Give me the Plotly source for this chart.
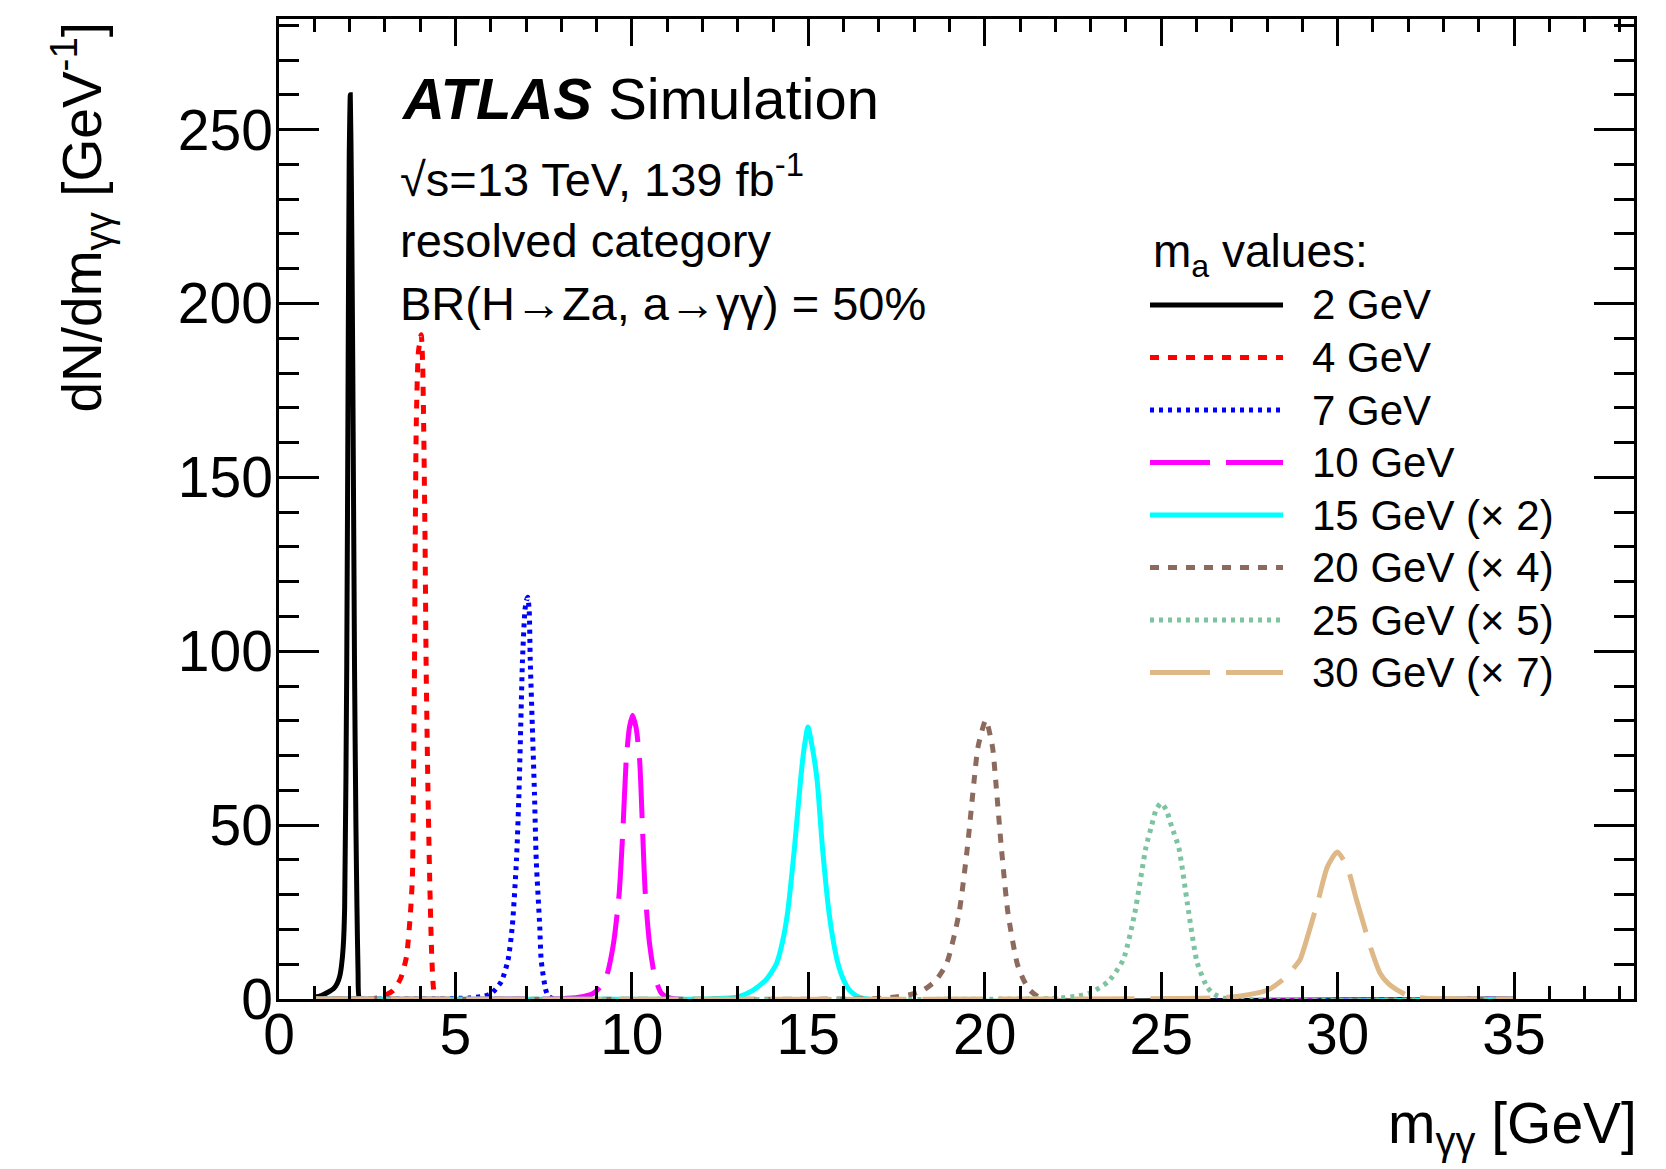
import plotly.graph_objects as go

# ---------------- data ----------------
labels = ["2 GeV", "4 GeV", "7 GeV", "10 GeV", "15 GeV (× 2)", "20 GeV (× 4)", "25 GeV (× 5)", "30 GeV (× 7)"]
colors = ["#000000", "#ff0000", "#0000ff", "#ff00ff", "#00ffff", "#8c6b5e", "#7cc4a0", "#deb887"]
dashes = ["solid", "9px,9px", "4px,5px", "60px,16px", "solid", "9px,9px", "4px,5px", "60px,16px"]

x_2 = [1.0, 1.2, 1.4, 1.55, 1.65, 1.72, 1.77, 1.82, 1.86, 1.92, 1.96, 1.99, 2.02, 2.05, 2.09, 2.14, 2.18, 2.21, 2.24, 2.27, 2.35, 35.0]
y_2 = [0.5, 1.0, 2.0, 3.0, 4.5, 6.5, 9.5, 15.0, 26.0, 96.0, 183.0, 242.0, 260.0, 236.0, 183.0, 96.0, 50.0, 26.0, 8.0, 0.5, 0.0, 0.0]

x_4 = [1.0, 2.8, 3.23, 3.45, 3.61, 3.72, 3.78, 3.81, 3.84, 3.86, 3.89, 3.95, 4.03, 4.07, 4.10, 4.14, 4.17, 4.22, 4.27, 4.33, 4.38, 4.45, 35.0]
y_4 = [0.0, 0.3, 2.4, 6.0, 12.0, 24.0, 34.7, 60.8, 95.7, 130.6, 165.0, 186.0, 191.0, 183.0, 165.0, 130.6, 95.7, 60.8, 34.7, 12.0, 3.0, 0.3, 0.0]

x_7 = [1.0, 5.4, 5.8, 6.02, 6.3, 6.49, 6.61, 6.73, 6.80, 6.85, 6.90, 6.97, 7.01, 7.05, 7.09, 7.12, 7.18, 7.24, 7.29, 7.39, 7.43, 7.55, 7.62, 7.8, 35.0]
y_7 = [0.0, 0.3, 0.8, 1.6, 5.0, 11.2, 20.7, 39.9, 59.0, 78.2, 97.4, 111.8, 114.5, 115.5, 111.8, 97.4, 78.2, 59.0, 39.9, 20.7, 11.2, 3.0, 1.0, 0.0, 0.0]

x_10 = [1.0, 8.0, 8.5, 8.9, 9.1, 9.28, 9.48, 9.64, 9.75, 9.84, 9.93, 10.02, 10.12, 10.22, 10.30, 10.38, 10.5, 10.65, 10.84, 11.1, 35.0]
y_10 = [0.0, 0.1, 0.5, 1.6, 3.4, 6.4, 16.0, 30.3, 49.5, 68.7, 78.0, 81.6, 78.0, 68.7, 49.5, 30.3, 16.0, 6.4, 1.6, 0.2, 0.0]

x_15 = [1.0, 12.3, 13.0, 13.43, 13.8, 14.1, 14.27, 14.41, 14.61, 14.78, 14.88, 14.99, 15.12, 15.25, 15.4, 15.59, 15.72, 15.84, 16.0, 16.17, 16.5, 35.0]
y_15 = [0.0, 0.1, 0.6, 2.5, 5.5, 10.2, 16.5, 24.6, 43.7, 62.9, 72.0, 78.2, 72.0, 62.9, 43.7, 24.6, 16.0, 10.2, 5.5, 2.5, 0.3, 0.0]

x_20 = [1.0, 16.8, 17.4, 17.9, 18.25, 18.6, 18.92, 19.27, 19.51, 19.70, 19.81, 20.03, 20.22, 20.31, 20.47, 20.66, 20.92, 21.1, 21.28, 21.6, 35.0]
y_20 = [0.0, 0.1, 0.5, 1.3, 2.5, 5.2, 10.2, 24.6, 43.7, 62.9, 72.5, 80.2, 72.5, 62.9, 43.7, 24.6, 10.2, 5.5, 2.5, 0.3, 0.0]

x_25 = [1.0, 22.0, 22.6, 23.0, 23.5, 23.92, 24.25, 24.57, 24.72, 24.86, 25.0, 25.14, 25.3, 25.5, 25.75, 26.02, 26.3, 26.5, 26.8, 35.0]
y_25 = [0.0, 0.2, 0.8, 1.8, 5.0, 11.2, 24.6, 43.7, 49.5, 54.5, 56.3, 54.5, 49.5, 43.5, 27.0, 10.5, 3.5, 1.4, 0.2, 0.0]

x_30 = [1.0, 26.5, 27.2, 28.0, 28.5, 28.93, 29.03, 29.45, 29.71, 29.99, 30.27, 30.54, 30.96, 31.2, 31.44, 31.96, 32.5, 35.0]
y_30 = [0.0, 0.3, 0.8, 2.5, 6.0, 11.2, 14.0, 28.4, 38.0, 42.3, 38.0, 28.4, 14.0, 7.5, 4.4, 1.1, 0.2, 0.0]

xs = [x_2, x_4, x_7, x_10, x_15, x_20, x_25, x_30]
ys = [y_2, y_4, y_7, y_10, y_15, y_20, y_25, y_30]

x_ticks = [0, 5, 10, 15, 20, 25, 30, 35]
y_ticks = [0, 50, 100, 150, 200, 250]

# ---------------- figure ----------------
W, H = 1666, 1169
L, R, T, B = 279, 1634, 19, 999
FONT = "Liberation Sans, Arial, Helvetica, sans-serif"


def px(x):
    return (x - L) / (R - L)


def py(y):
    return (B - y) / (B - T)


fig = go.Figure()
for xv, yv, c, d, n in zip(xs, ys, colors, dashes, labels):
    fig.add_trace(go.Scatter(x=xv, y=yv, mode="lines", name=n,
                             line=dict(color=c, width=5, dash=d, shape="spline", smoothing=0.6),
                             showlegend=False))

axis_common = dict(showline=True, linecolor="black", linewidth=2.5, mirror="ticks",
                   ticks="inside", tickwidth=2.5, tickcolor="black", showgrid=False, zeroline=False,
                   tickfont=dict(family=FONT, size=57, color="black"))

fig.update_xaxes(range=[0, 38.4], tickvals=x_ticks, ticktext=[str(v) for v in x_ticks], ticklen=27,
                 ticklabelstandoff=-16,
                 minor=dict(dtick=1, ticklen=13, ticks="inside", tickwidth=2.5, tickcolor="black", showgrid=False),
                 **axis_common)
fig.update_yaxes(range=[0, 281.8], tickvals=y_ticks, ticktext=[str(v) for v in y_ticks], ticklen=40,
                 ticklabelstandoff=-8,
                 minor=dict(dtick=10, ticklen=20, ticks="inside", tickwidth=2.5, tickcolor="black", showgrid=False),
                 **axis_common)

ann = []
# axis titles
ann.append(dict(text="m<sub>γγ</sub> [GeV]", x=px(1639), y=py(1127), xanchor="right", yanchor="middle",
                font=dict(family=FONT, size=57, color="black")))
ann.append(dict(text="dN/dm<sub>γγ</sub> [GeV<sup>-1</sup>]", x=px(81), y=py(20), xanchor="center", yanchor="top",
                textangle=-90, font=dict(family=FONT, size=55, color="black")))
# ATLAS label block
ann.append(dict(text="<b><i>ATLAS</i></b> Simulation", x=px(399), y=py(99), xanchor="left", yanchor="middle",
                font=dict(family=FONT, size=58, color="black")))
info = ["√s=13 TeV, 139 fb<sup>-1</sup>", "resolved category", "BR(H→Za, a→γγ) = 50%"]
info_y = [176, 240, 303]
for t, yy in zip(info, info_y):
    ann.append(dict(text=t, x=px(398), y=py(yy), xanchor="left", yanchor="middle",
                    font=dict(family=FONT, size=47, color="black")))
# legend
ann.append(dict(text="m<sub>a</sub> values:", x=px(1151), y=py(254), xanchor="left", yanchor="middle",
                font=dict(family=FONT, size=46, color="black")))
shapes = []
leg_y0, leg_dy = 305, 52.5
for i, (n, c, d) in enumerate(zip(labels, colors, dashes)):
    yy = leg_y0 + i * leg_dy
    shapes.append(dict(type="line", xref="paper", yref="paper", x0=px(1150), x1=px(1283), y0=py(yy), y1=py(yy),
                       line=dict(color=c, width=5, dash=d)))
    ann.append(dict(text=n, x=px(1310), y=py(yy), xanchor="left", yanchor="middle",
                    font=dict(family=FONT, size=42, color="black")))

for a in ann:
    a.update(xref="paper", yref="paper", showarrow=False)

fig.update_layout(width=W, height=H, margin=dict(l=L, r=W - R, t=T, b=H - B, pad=0),
                  paper_bgcolor="white", plot_bgcolor="white", annotations=ann, shapes=shapes,
                  font=dict(family=FONT, color="black"))

fig.write_html("out.html")
